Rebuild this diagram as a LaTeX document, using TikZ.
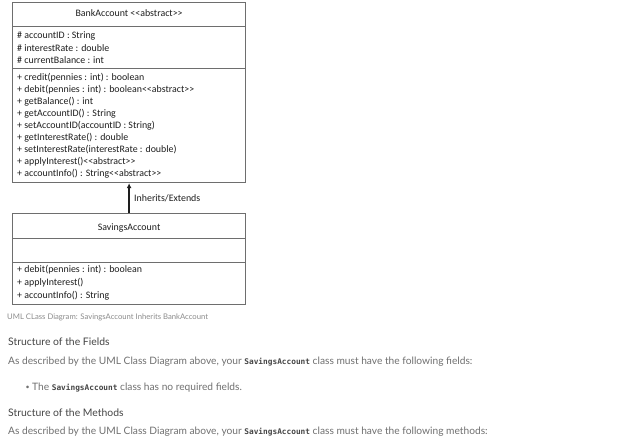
\documentclass[tikz,border=0pt]{standalone}
\usepackage{fontspec}
\usetikzlibrary{arrows.meta,positioning}
\setmainfont{Lato}
\newfontfamily\umlfont{Carlito}
\newfontfamily\codefont{DejaVu Sans Mono}
\definecolor{boxline}{HTML}{6E6E6E}
\definecolor{umlink}{HTML}{1E1E1E}
\definecolor{bodyink}{HTML}{707070}
\definecolor{headink}{HTML}{454545}
\definecolor{capink}{HTML}{8C8C8C}
\newcommand{\uml}{\umlfont\fontsize{9.9}{11}\selectfont}
\newcommand{\body}{\fontsize{10.2}{12}\selectfont}
\newcommand{\head}{\fontsize{10.4}{12}\selectfont}
\newcommand{\capt}{\fontsize{7.7}{9}\selectfont}
\newcommand{\code}[1]{{\codefont\bfseries\fontsize{7.8}{9}\selectfont\color{headink}#1}}
\newcommand{\stereo}{{<}{<}abstract{>}{>}}

\begin{document}
\begin{tikzpicture}[x=1pt,y=-1pt,
  compart/.style={draw=boxline,line width=1.2pt,rectangle,inner sep=0,minimum width=233,anchor=north west},
  member/.style={anchor=west,inner sep=0,font=\uml,text=umlink},
  ctitle/.style={inner sep=0,font=\uml,text=umlink},
  prose/.style={anchor=west,inner sep=0,font=\body,text=bodyink},
  heading/.style={anchor=west,inner sep=0,font=\head,text=headink}]
\useasboundingbox (0,0) rectangle (624,442);
\fill[white] (0,0) rectangle (624,442);
% BankAccount
\node[compart,minimum height=24] (bankTitle) at (12,2) {};
\node[compart,minimum height=42] (bankFields) at (12,26) {};
\node[compart,minimum height=114] (bankMeth) at (12,68) {};
\node[ctitle] (bankName) at ([yshift=2]bankTitle.center) {BankAccount \stereo};
\node[member] (bf1) at (17,36) {\# accountID : String};
\node[member] (bf2) at (17,48) {\# interestRate : double};
\node[member] (bf3) at (17,60) {\# currentBalance : int};
\node[member] (bm1) at (17,78) {+ credit(pennies : int) : boolean};
\node[member] (bm2) at (17,90) {+ debit(pennies : int) : boolean\stereo};
\node[member] (bm3) at (17,102) {+ getBalance() : int};
\node[member] (bm4) at (17,114) {+ getAccountID() : String};
\node[member] (bm5) at (17,126) {+ setAccountID(accountID : String)};
\node[member] (bm6) at (17,138) {+ getInterestRate() : double};
\node[member] (bm7) at (17,150) {+ setInterestRate(interestRate : double)};
\node[member] (bm8) at (17,162) {+ applyInterest()\stereo};
\node[member] (bm9) at (17,174) {+ accountInfo() : String\stereo};
% SavingsAccount
\node[compart,minimum height=25] (saveTitle) at (12,213) {};
\node[compart,minimum height=24] (saveFields) at (12,238) {};
\node[compart,minimum height=42] (saveMeth) at (12,262) {};
\node[ctitle] (saveName) at ([yshift=-2]saveTitle.center) {SavingsAccount};
\node[member] (sm1) at (17,270) {+ debit(pennies : int) : boolean};
\node[member] (sm2) at (17,283) {+ applyInterest()};
\node[member] (sm3) at (17,296) {+ accountInfo() : String};
% inheritance
\draw[umlink,line width=1.8pt,-{Latex[length=5pt,width=5pt]}] (saveTitle.north) -- (bankMeth.south);
\node[member] (inheritLbl) at (134,198) {Inherits/Extends};
% text below
\node[anchor=west,inner sep=0,font=\capt,text=capink] (caption) at (7,317) {UML CLass Diagram: SavingsAccount Inherits BankAccount};
\node[heading] (fieldsHead) at (8,342) {Structure of the Fields};
\node[prose] (fieldsText) at (8,362) {As described by the UML Class Diagram above, your \code{SavingsAccount} class must have the following fields:};
\node[prose,font=\fontsize{7}{8}\selectfont] (bulletDot) at (25.5,388) {\textbullet};
\node[prose] (bulletText) at (32,388) {The \code{SavingsAccount} class has no required fields.};
\node[heading] (methHead) at (8,413) {Structure of the Methods};
\node[prose] (methText) at (8,432) {As described by the UML Class Diagram above, your \code{SavingsAccount} class must have the following methods:};
\end{tikzpicture}
\end{document}
